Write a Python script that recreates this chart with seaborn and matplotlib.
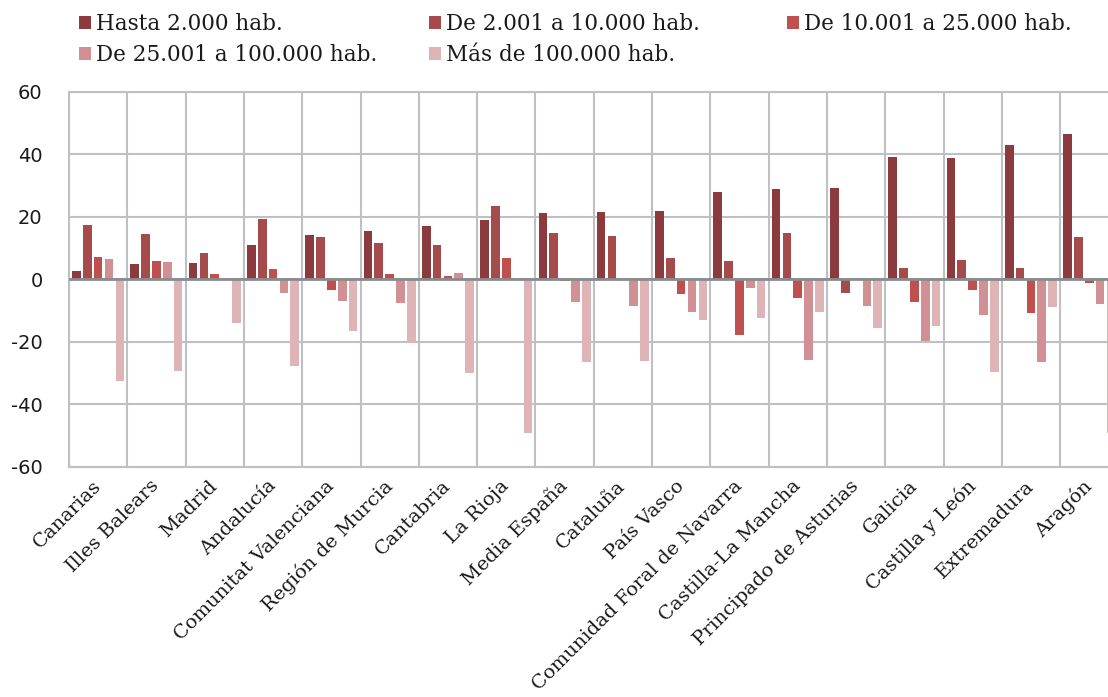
import numpy as np
import pandas as pd
import matplotlib
matplotlib.use("Agg")
import matplotlib.pyplot as plt
import seaborn as sns

# Variación por comunidad autónoma y tamaño de municipio
comunidades = [
    "Canarias", "Illes Balears", "Madrid", "Andalucía", "Comunitat Valenciana",
    "Región de Murcia", "Cantabria", "La Rioja", "Media España", "Cataluña",
    "País Vasco", "Comunidad Foral de Navarra", "Castilla-La Mancha",
    "Principado de Asturias", "Galicia", "Castilla y León", "Extremadura", "Aragón",
]
tramos = [
    "Hasta 2.000 hab.", "De 2.001 a 10.000 hab.", "De 10.001 a 25.000 hab.",
    "De 25.001 a 100.000 hab.", "Más de 100.000 hab.",
]
hasta_2000 = [2.7, 4.7, 5.1, 10.9, 14.0, 15.5, 17.0, 18.9, 21.3, 21.6, 21.9, 27.8,
              28.7, 29.1, 39.0, 38.7, 42.9, 46.4]
de_2001_a_10000 = [17.4, 14.3, 8.2, 19.4, 13.6, 11.7, 10.8, 23.5, 14.7, 13.9, 6.8,
                   5.7, 14.7, -4.3, 3.4, 6.1, 3.7, 13.5]
de_10001_a_25000 = [7.0, 5.8, 1.6, 3.1, -3.5, 1.6, 1.1, 6.8, -0.6, -0.1, -4.7,
                    -17.8, -6.1, 0.0, -7.3, -3.5, -10.8, -1.2]
de_25001_a_100000 = [6.5, 5.5, 0.0, -4.3, -7.0, -7.7, 1.9, 0.0, -7.3, -8.6, -10.5,
                     -2.8, -26.0, -8.6, -19.8, -11.6, -26.4, -8.1]
mas_de_100000 = [-32.6, -29.4, -13.9, -27.8, -16.7, -20.4, -30.2, -49.2, -26.7,
                 -26.3, -13.0, -12.3, -10.4, -15.5, -15.1, -29.7, -8.9, -49.3]
y_ticks = [-60, -40, -20, 0, 20, 40, 60]

colores = ["#8B3A3E", "#A64B4B", "#C0504D", "#D19093", "#DEB4B7"]

series = [hasta_2000, de_2001_a_10000, de_10001_a_25000, de_25001_a_100000, mas_de_100000]
df = pd.DataFrame({
    "Comunidad": comunidades * len(tramos),
    "Tramo": [t for t in tramos for _ in comunidades],
    "Valor": [v for s in series for v in s],
})

sns.set_style("white")
GRID = "#BEC0C3"

fig = plt.figure(figsize=(11.08, 6.97), dpi=100)
W, H = 1108, 697
left, right, top, bottom = 69, 1118.4, 91.7, 466.5
ax = fig.add_axes([left / W, (H - bottom) / H, (right - left) / W, (bottom - top) / H])

sns.barplot(data=df, x="Comunidad", y="Valor", hue="Tramo", order=comunidades,
            hue_order=tramos, palette=colores, saturation=1, width=0.93, gap=0.2,
            errorbar=None, linewidth=0, ax=ax)

ax.set_ylim(-60, 60)
ax.set_xlim(-0.5, len(comunidades) - 0.5)
ax.set_yticks(y_ticks)
ax.set_yticklabels([str(v) for v in y_ticks], family="DejaVu Sans", fontsize=14,
                   color="#1a1a1a")
ax.set_xlabel("")
ax.set_ylabel("")

# category separators and horizontal grid
ax.set_xticks(np.arange(-0.5, len(comunidades), 1), minor=True)
ax.grid(True, which="minor", axis="x", color=GRID, lw=1.5)
ax.grid(True, which="major", axis="y", color=GRID, lw=1.5)
ax.set_axisbelow(True)
ax.axhline(0, color="#8A8B8D", lw=2.0, zorder=5)
for s in ax.spines.values():
    s.set_color(GRID)
    s.set_linewidth(1.5)

ax.tick_params(axis="both", which="both", length=0)
ax.tick_params(axis="y", pad=19)
ax.tick_params(axis="x", pad=12)
ax.set_xticks(range(len(comunidades)))
ax.set_xticklabels(comunidades, rotation=45, ha="right", va="center",
                   rotation_mode="anchor", family="DejaVu Serif", fontsize=14,
                   color="#1a1a1a")

# legend laid out in three columns, row-major
handles, labels = ax.get_legend_handles_labels()
ax.legend_.remove()
col_x = [79, 429, 787]
columns = [[0, 3], [1, 4], [2]]
for cx, idx in zip(col_x, columns):
    leg = fig.legend([handles[i] for i in idx], [labels[i] for i in idx],
                     loc="upper left", bbox_to_anchor=(cx / W, 1 - 13 / H),
                     frameon=False, ncol=1, borderaxespad=0, borderpad=0,
                     handlelength=0.55, handleheight=0.55, handletextpad=0.25,
                     labelspacing=0.42,
                     prop={"family": "DejaVu Serif", "size": 15.5})
    for t in leg.get_texts():
        t.set_color("#1a1a1a")

fig.savefig("out.png", dpi=100)
